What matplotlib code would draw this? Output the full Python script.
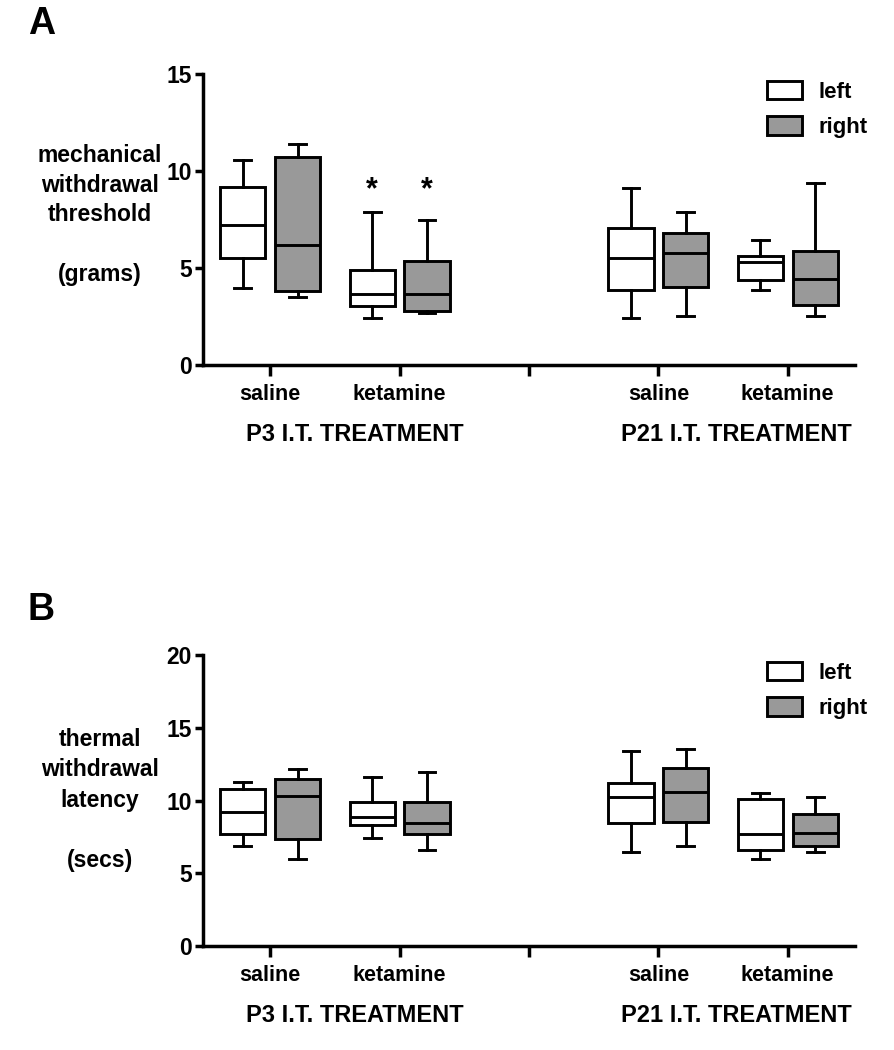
import numpy as np
import matplotlib
matplotlib.use("Agg")
import matplotlib.pyplot as plt
from matplotlib.patches import Patch

plt.rcParams['font.family'] = ['Liberation Sans', 'DejaVu Sans']
plt.rcParams['font.weight'] = 'bold'

# box order: P3 saline L, P3 saline R, P3 ket L, P3 ket R, P21 saline L, P21 saline R, P21 ket L, P21 ket R
categories = ["saline", "ketamine", "", "saline", "ketamine"]
groups = ["P3 I.T. TREATMENT", "P21 I.T. TREATMENT"]
sides = ["left", "right"]

# panel A: mechanical withdrawal threshold (grams)
mech_whislo = [3.95, 3.52, 2.41, 2.66, 2.41, 2.53, 3.87, 2.53]
mech_q1     = [5.53, 3.83, 3.06, 2.80, 3.87, 4.04, 4.38, 3.09]
mech_med    = [7.22, 6.19, 3.64, 3.64, 5.50, 5.79, 5.33, 4.43]
mech_q3     = [9.16, 10.74, 4.90, 5.38, 7.04, 6.82, 5.62, 5.88]
mech_whishi = [10.57, 11.37, 7.90, 7.47, 9.14, 7.90, 6.44, 9.36]

# panel B: thermal withdrawal latency (secs)
therm_whislo = [6.90, 5.98, 7.40, 6.60, 6.48, 6.90, 5.98, 6.48]
therm_q1     = [7.68, 7.35, 8.32, 7.68, 8.43, 8.50, 6.60, 6.87]
therm_med    = [9.19, 10.33, 8.89, 8.43, 10.26, 10.61, 7.70, 7.79]
therm_q3     = [10.77, 11.50, 9.87, 9.92, 11.18, 12.26, 10.08, 9.07]
therm_whishi = [11.29, 12.14, 11.64, 11.94, 13.42, 13.54, 10.49, 10.22]

star_y = 9.3  # significance marks above P3 ketamine boxes

BOX_CENTERS = [1, 2, 4, 5]
OFFSET = 0.212
BOX_W = 0.35
CAP_W = 0.13
LW = 2.1
GRAY = '#999999'


def make_stats(lo, q1, med, q3, hi):
  stats = []
  for i in range(len(lo)):
    stats.append({'whislo': lo[i], 'q1': q1[i], 'med': med[i], 'q3': q3[i],
                  'whishi': hi[i], 'fliers': []})
  return stats


def draw_panel(ax, stats, ymax, yticks):
  pos = []
  for c in BOX_CENTERS:
    pos += [c - OFFSET, c + OFFSET]
  for k, (st, p) in enumerate(zip(stats, pos)):
    face = 'white' if k % 2 == 0 else GRAY
    ax.bxp([st], positions=[p], widths=BOX_W, capwidths=CAP_W,
           patch_artist=True, showfliers=False,
           boxprops=dict(facecolor=face, edgecolor='black', linewidth=LW),
           medianprops=dict(color='black', linewidth=LW),
           whiskerprops=dict(color='black', linewidth=LW),
           capprops=dict(color='black', linewidth=LW))
  ax.set_xlim(0.48, 5.52)
  ax.set_ylim(0, ymax)
  ax.set_yticks(yticks)
  ax.set_yticklabels([str(t) for t in yticks], fontsize=16.5, fontweight='bold')
  ax.set_xticks([1, 2, 3, 4, 5])
  ax.set_xticklabels(categories, fontsize=15.5, fontweight='bold')
  for s in ['top', 'right']:
    ax.spines[s].set_visible(False)
  for s in ['left', 'bottom']:
    ax.spines[s].set_linewidth(2.5)
  ax.tick_params(axis='y', length=6, width=2.5, pad=2)
  ax.tick_params(axis='x', length=8, width=2.5, pad=6)
  for g, gx in zip(groups, [1.65, 4.6]):
    ax.annotate(g, xy=(gx, 0), xycoords=('data', 'axes fraction'),
                xytext=(0, -50), textcoords='offset points', ha='center', va='center',
                fontsize=17, fontweight='bold')
  handles = [Patch(facecolor='white', edgecolor='black', linewidth=LW),
             Patch(facecolor=GRAY, edgecolor='black', linewidth=LW)]
  ax.legend(handles, sides, loc='upper right', bbox_to_anchor=(1.05, 1.045),
            frameon=False, handlelength=1.58, handleheight=0.9,
            handletextpad=0.75, labelspacing=0.6,
            prop={'weight': 'bold', 'size': 16})


fig = plt.figure(figsize=(8.95, 10.5), dpi=100)
axA = fig.add_axes([203 / 895, 685 / 1050, 652 / 895, 291 / 1050])
axB = fig.add_axes([203 / 895, 104 / 1050, 652 / 895, 291 / 1050])

draw_panel(axA, make_stats(mech_whislo, mech_q1, mech_med, mech_q3, mech_whishi), 15, [0, 5, 10, 15])
draw_panel(axB, make_stats(therm_whislo, therm_q1, therm_med, therm_q3, therm_whishi), 20, [0, 5, 10, 15, 20])

for sx in [2 - OFFSET, 2 + OFFSET]:
  axA.annotate('*', xy=(sx, star_y), xytext=(0, -4), textcoords='offset points',
               ha='center', va='center', fontsize=22, fontweight='bold')

fig.text(100 / 895, 1 - 215 / 1050, "mechanical\nwithdrawal\nthreshold\n\n(grams)",
         ha='center', va='center', fontsize=16.5, fontweight='bold', linespacing=1.38)
fig.text(100 / 895, 1 - 800 / 1050, "thermal\nwithdrawal\nlatency\n\n(secs)",
         ha='center', va='center', fontsize=16.5, fontweight='bold', linespacing=1.4)

fig.text(28 / 895, 1 - 24 / 1050, "A", ha='left', va='center', fontsize=27, fontweight='bold')
fig.text(28 / 895, 1 - 610 / 1050, "B", ha='left', va='center', fontsize=27, fontweight='bold')

fig.savefig("out.png", dpi=100)
